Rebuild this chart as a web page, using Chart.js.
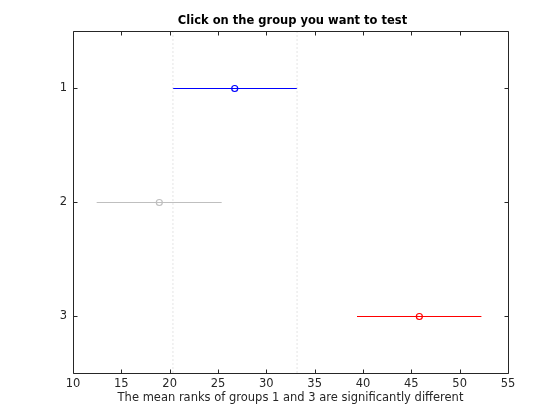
<!DOCTYPE html>
<html>
<head>
<meta charset="utf-8">
<script src="https://cdn.jsdelivr.net/npm/chart.js@4/dist/chart.umd.min.js"></script>
<style>
  html, body { margin: 0; padding: 0; background: #fff; }
  #wrap { width: 560px; height: 420px; }
</style>
</head>
<body>
<div id="wrap"><canvas id="chart"></canvas></div>
<script>
"use strict";

// Groups (top to bottom) and their estimated mean ranks + comparison intervals
const groups = [1, 2, 3];
const meanRanks = [26.73, 18.93, 45.83];
const lowerBounds = [20.34, 12.45, 39.38];
const upperBounds = [33.18, 25.38, 52.25];
const groupColors = ["#0000ff", "#bfbfbf", "#ff0000"];

// Reference lines marking the selected group's interval
const refLines = [20.34, 33.18];

const titleText = "Click on the group you want to test";
const xLabelText = "The mean ranks of groups 1 and 3 are significantly different";

const FONT = "'DejaVu Sans', sans-serif";
const TEXT_COLOR = "#262626";

const datasets = [];

refLines.forEach((x) => {
  datasets.push({
    data: [{ x: x, y: 0.5 }, { x: x, y: 3.5 }],
    borderColor: "#c8c8c8",
    borderWidth: 1,
    borderDash: [1, 3],
    pointRadius: 0,
  });
});

groups.forEach((g, i) => {
  // interval line
  datasets.push({
    data: [{ x: lowerBounds[i], y: g }, { x: upperBounds[i], y: g }],
    borderColor: groupColors[i],
    borderWidth: 1,
    pointRadius: 0,
  });
  // mean marker
  datasets.push({
    data: [{ x: meanRanks[i], y: g }],
    showLine: false,
    borderColor: groupColors[i],
    backgroundColor: "transparent",
    borderWidth: 1.2,
    pointRadius: 3,
    pointStyle: "circle",
  });
});

// Box around the plot with inward ticks on all four sides, plus title/xlabel
const frame = {
  id: "frame",
  afterDraw(chart) {
    const { ctx, chartArea: a, scales } = chart;
    const tick = 4;
    const L = Math.floor(a.left) + 0.5, R = Math.floor(a.right) + 0.5;
    const T = Math.floor(a.top) + 0.5, B = Math.floor(a.bottom) + 0.5;
    ctx.save();
    ctx.strokeStyle = TEXT_COLOR;
    ctx.lineWidth = 1;
    ctx.beginPath();
    ctx.rect(L, T, R - L, B - T);
    scales.x.ticks.forEach((t) => {
      const px = Math.round(scales.x.getPixelForValue(t.value)) + 0.5;
      ctx.moveTo(px, B); ctx.lineTo(px, B - tick);
      ctx.moveTo(px, T); ctx.lineTo(px, T + tick);
    });
    scales.y.ticks.forEach((t) => {
      const py = Math.floor(scales.y.getPixelForValue(t.value)) + 0.5;
      ctx.moveTo(L, py); ctx.lineTo(L + tick, py);
      ctx.moveTo(R, py); ctx.lineTo(R - tick, py);
    });
    ctx.stroke();

    ctx.fillStyle = "#000";
    ctx.textAlign = "center";
    ctx.textBaseline = "middle";
    ctx.font = "bold 11.5px " + FONT;
    ctx.fillText(titleText, (a.left + a.right) / 2 + 2, 21.5);
    ctx.fillStyle = TEXT_COLOR;
    ctx.font = "11.5px " + FONT;
    ctx.fillText(xLabelText, (a.left + a.right) / 2, 398);
    ctx.restore();
  },
};

new Chart(document.getElementById("chart"), {
  type: "line",
  data: { datasets },
  options: {
    responsive: true,
    maintainAspectRatio: false,
    animation: false,
    layout: { padding: { left: 0, top: 31.5, right: 52, bottom: 0 } },
    plugins: {
      legend: { display: false },
      tooltip: { enabled: false },
    },
    scales: {
      x: {
        type: "linear",
        min: 10,
        max: 55,
        grid: { display: false, drawTicks: false },
        border: { display: false },
        ticks: {
          stepSize: 5,
          padding: 4,
          color: TEXT_COLOR,
          font: { family: FONT, size: 11.5 },
          maxRotation: 0,
        },
        afterFit(scale) { scale.height = 46.5; },
      },
      y: {
        type: "linear",
        reverse: true,
        min: 0.5,
        max: 3.5,
        grid: { display: false, drawTicks: false },
        border: { display: false },
        afterBuildTicks(scale) {
          scale.ticks = groups.map((g) => ({ value: g }));
        },
        ticks: {
          padding: 6,
          color: TEXT_COLOR,
          font: { family: FONT, size: 11.5 },
        },
        afterFit(scale) { scale.width = 73; },
      },
    },
  },
  plugins: [frame],
});
</script>
</body>
</html>
